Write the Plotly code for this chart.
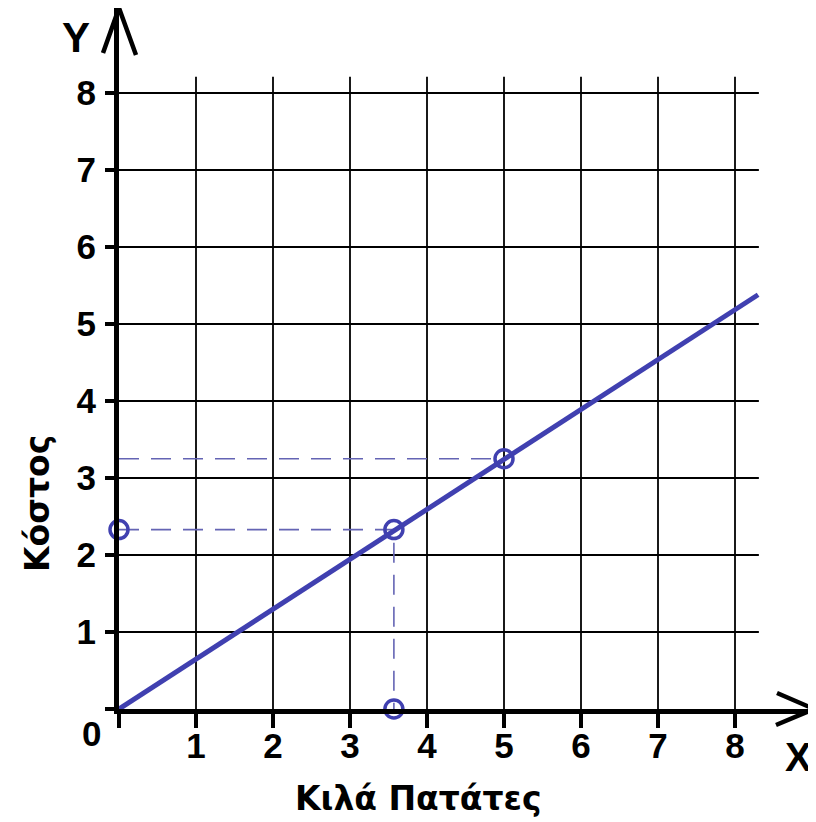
import plotly.graph_objects as go

# ---- data ----
x_ticks = [0, 1, 2, 3, 4, 5, 6, 7, 8]
x_tick_labels = ["", "1", "2", "3", "4", "5", "6", "7", "8"]
y_ticks = [0, 1, 2, 3, 4, 5, 6, 7, 8]
y_tick_labels = ["", "1", "2", "3", "4", "5", "6", "7", "8"]

line_x = [0, 8.3]
line_y = [0, 5.38]

point_x = [0, 3.57, 3.57, 5.0]
point_y = [2.33, 2.33, 0, 3.25]

guide1_x = [0, 3.57, 3.57]
guide1_y = [2.33, 2.33, 0]
guide2_x = [0, 5.0]
guide2_y = [3.25, 3.25]

grid_x_end = 8.31
grid_y_end = 8.21

x_title = "Κιλά Πατάτες"
y_title = "Κόστος"

# ---- layout geometry (page body has an 8px margin) ----
OFF = 8
W, H = 816, 822
ML, MR, MT, MB = 111, 0, 0, 121
PW, PH = W - ML - MR, H - MT - MB
UNIT = 77.0
x_range = [0, PW / UNIT]
y_range = [0, PH / UNIT]


def px(xp, yp):
    """screen pixel -> paper coords"""
    return ((xp - OFF) - ML) / PW, (H - MB - (yp - OFF)) / PH


BLUE = "#4040b0"
DASH = "#6464b4"
TICKFONT = dict(family="Liberation Sans, Arial, sans-serif", size=35, color="black", weight="bold")
TITLEFONT = dict(family="DejaVu Sans, sans-serif", size=33, color="black", weight="bold")

fig = go.Figure()

for v in x_ticks[1:]:
    fig.add_trace(go.Scatter(x=[v, v], y=[0, grid_y_end], mode="lines",
                             line=dict(color="black", width=1.8), hoverinfo="skip", showlegend=False))
for v in y_ticks[1:]:
    fig.add_trace(go.Scatter(x=[0, grid_x_end], y=[v, v], mode="lines",
                             line=dict(color="black", width=1.8), hoverinfo="skip", showlegend=False))

fig.add_trace(go.Scatter(x=guide1_x, y=guide1_y, mode="lines",
                         line=dict(color=DASH, width=1.6, dash="20px,12px"), showlegend=False))
fig.add_trace(go.Scatter(x=guide2_x, y=guide2_y, mode="lines",
                         line=dict(color=DASH, width=1.6, dash="20px,12px"), showlegend=False))

fig.add_trace(go.Scatter(x=line_x, y=line_y, mode="lines",
                         line=dict(color=BLUE, width=5), showlegend=False))

fig.add_trace(go.Scatter(x=point_x, y=point_y, mode="markers", cliponaxis=False,
                         marker=dict(symbol="circle-open", size=18, color=BLUE, line=dict(width=3.5, color=BLUE)),
                         showlegend=False))

fig.update_xaxes(range=x_range, showgrid=False, zeroline=False, showline=True, linewidth=5,
                 linecolor="black", ticks="outside", ticklen=14, tickwidth=4, tickcolor="black",
                 tickvals=x_ticks, ticktext=x_tick_labels, tickfont=TICKFONT, ticklabelstandoff=-12,
                 fixedrange=True)
fig.update_yaxes(range=y_range, showgrid=False, zeroline=False, showline=True, linewidth=5,
                 linecolor="black", ticks="outside", ticklen=9, tickwidth=4, tickcolor="black",
                 tickvals=y_ticks, ticktext=y_tick_labels, tickfont=TICKFONT, ticklabelstandoff=2,
                 fixedrange=True)

shapes = []
a, b = px(103, 53)
c, d = px(119, 8)
e, f = px(136, 55)
shapes.append(dict(type="path", xref="paper", yref="paper",
                   path=f"M {a} {b} L {c} {d} L {e} {f}", line=dict(color="black", width=4.5)))
a, b = px(777, 693)
c, d = px(814, 709)
e, f = px(776, 725)
shapes.append(dict(type="path", xref="paper", yref="paper",
                   path=f"M {a} {b} L {c} {d} L {e} {f}", line=dict(color="black", width=4.5)))

annotations = []


def ann(text, xp, yp, font, angle=0):
    x, y = px(xp, yp)
    annotations.append(dict(text=text, x=x, y=y, xref="paper", yref="paper", showarrow=False,
                            xanchor="center", yanchor="middle", font=font, textangle=angle))


ann(x_title, 418, 798, TITLEFONT)
ann(y_title, 37, 504, TITLEFONT, angle=-90)
ann("Y", 76, 38, dict(family="Liberation Sans, Arial", size=42, color="black", weight="bold"))
ann("X", 798, 757, dict(family="Liberation Sans, Arial", size=40, color="black", weight="bold"))
ann("0", 91, 733, TICKFONT)

fig.update_layout(width=W, height=H, margin=dict(l=ML, r=MR, t=MT, b=MB, pad=0),
                  paper_bgcolor="white", plot_bgcolor="white",
                  shapes=shapes, annotations=annotations, showlegend=False)

fig.write_html("out.html")
